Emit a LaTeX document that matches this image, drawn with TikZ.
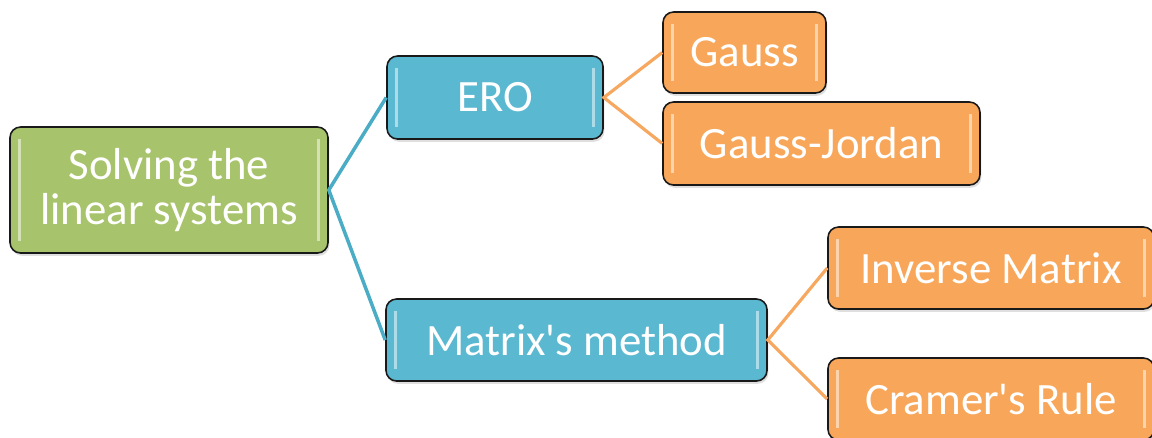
\documentclass[tikz,border=0pt]{standalone}
\usepackage{fontspec}
\setmainfont{Carlito}
\usetikzlibrary{shadows}

\definecolor{boxgreen}{RGB}{167,195,107}
\definecolor{boxteal}{RGB}{91,184,209}
\definecolor{boxorange}{RGB}{248,167,90}
\definecolor{lineteal}{RGB}{75,172,198}
\definecolor{lineorange}{RGB}{247,168,96}

\tikzset{
    hl/.style={line width=1.6pt, white, opacity=0.5},
    box/.style={draw=black!90, line width=0.9pt, rounded corners=6pt, text=white,
        inner sep=0pt, align=center, font=\fontsize{25.5}{26}\selectfont,
        drop shadow={opacity=0.25, shadow xshift=0.8pt, shadow yshift=-1.6pt},
        path picture={
            \draw[hl] ([shift={(5.5pt,-7pt)}]path picture bounding box.north west)
                -- ([shift={(5.5pt,7pt)}]path picture bounding box.south west);
            \draw[hl] ([shift={(-5.5pt,-7pt)}]path picture bounding box.north east)
                -- ([shift={(-5.5pt,7pt)}]path picture bounding box.south east);
        }},
    greenbox/.style={box, fill=boxgreen},
    tealbox/.style={box, fill=boxteal},
    orangebox/.style={box, fill=boxorange},
    tealline/.style={lineteal, line width=2pt},
    orangeline/.style={lineorange, line width=1.8pt},
}

\begin{document}
\begin{tikzpicture}[x=0.02cm, y=-0.02cm]
    \clip (0,0) rectangle (1152,437);

    \node[greenbox, minimum width=318*0.02cm, minimum height=126*0.02cm] (root) at (169,190)
        {Solving the\\linear systems};

    \node[tealbox, minimum width=216*0.02cm, minimum height=83*0.02cm] (ero) at (495,97.5) {ERO};
    \node[tealbox, minimum width=381*0.02cm, minimum height=82*0.02cm] (matrix) at (576.5,340)
        {Matrix\textquotesingle s method};

    \node[orangebox, minimum width=163*0.02cm, minimum height=81*0.02cm] (gauss) at (744.5,52.5) {Gauss};
    \node[orangebox, minimum width=317*0.02cm, minimum height=83*0.02cm] (gaussjordan) at (821.5,143.5) {Gauss-Jordan};
    \node[orangebox, minimum width=326*0.02cm, minimum height=82*0.02cm] (inverse) at (991,268) {Inverse Matrix};
    \node[orangebox, minimum width=326*0.02cm, minimum height=82*0.02cm] (cramer) at (991,399)
        {Cramer\textquotesingle s Rule};

    \draw[tealline] (ero.west) -- (root.east) -- (matrix.west);
    \draw[orangeline] (gauss.west) -- (ero.east) -- (gaussjordan.west);
    \draw[orangeline] (inverse.west) -- (matrix.east) -- (cramer.west);
\end{tikzpicture}
\end{document}
